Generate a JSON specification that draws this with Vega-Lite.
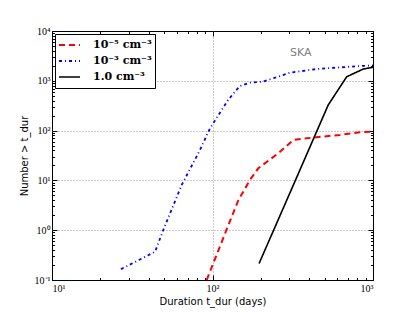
{
  "$schema": "https://vega.github.io/schema/vega-lite/v6.json",
  "width": 321,
  "height": 249,
  "autosize": {"type": "none"},
  "padding": {"left": 52, "top": 31, "right": 42, "bottom": 32},
  "background": "#ffffff",
  "config": {
    "view": {"stroke": "#000000", "strokeWidth": 1},
    "axis": {"domain": false, "tickColor": "#000000", "labelColor": "#000000", "titleColor": "#000000"}
  },
  "resolve": {"axis": {"x": "independent", "y": "independent"}},
  "layer": [
    {
      "data": {"values": [
        {"x": 92, "y": 0.1, "s": "10⁻⁵ cm⁻³"},
        {"x": 122, "y": 1.0, "s": "10⁻⁵ cm⁻³"},
        {"x": 145, "y": 4.0, "s": "10⁻⁵ cm⁻³"},
        {"x": 171, "y": 10.2, "s": "10⁻⁵ cm⁻³"},
        {"x": 193, "y": 17.5, "s": "10⁻⁵ cm⁻³"},
        {"x": 257, "y": 35, "s": "10⁻⁵ cm⁻³"},
        {"x": 319, "y": 65, "s": "10⁻⁵ cm⁻³"},
        {"x": 417, "y": 72, "s": "10⁻⁵ cm⁻³"},
        {"x": 622, "y": 82, "s": "10⁻⁵ cm⁻³"},
        {"x": 807, "y": 92, "s": "10⁻⁵ cm⁻³"},
        {"x": 1000, "y": 96, "s": "10⁻⁵ cm⁻³"},
        {"x": 26.9, "y": 0.165, "s": "10⁻³ cm⁻³"},
        {"x": 43.9, "y": 0.37, "s": "10⁻³ cm⁻³"},
        {"x": 49.3, "y": 1.0, "s": "10⁻³ cm⁻³"},
        {"x": 64.3, "y": 8.1, "s": "10⁻³ cm⁻³"},
        {"x": 83.6, "y": 41, "s": "10⁻³ cm⁻³"},
        {"x": 96.5, "y": 111, "s": "10⁻³ cm⁻³"},
        {"x": 125, "y": 411, "s": "10⁻³ cm⁻³"},
        {"x": 148, "y": 787, "s": "10⁻³ cm⁻³"},
        {"x": 171, "y": 916, "s": "10⁻³ cm⁻³"},
        {"x": 207, "y": 964, "s": "10⁻³ cm⁻³"},
        {"x": 304, "y": 1455, "s": "10⁻³ cm⁻³"},
        {"x": 448, "y": 1726, "s": "10⁻³ cm⁻³"},
        {"x": 719, "y": 1919, "s": "10⁻³ cm⁻³"},
        {"x": 1000, "y": 2047, "s": "10⁻³ cm⁻³"},
        {"x": 195, "y": 0.214, "s": "1.0 cm⁻³"},
        {"x": 327, "y": 9.7, "s": "1.0 cm⁻³"},
        {"x": 526, "y": 327, "s": "1.0 cm⁻³"},
        {"x": 686, "y": 1208, "s": "1.0 cm⁻³"},
        {"x": 871, "y": 1726, "s": "1.0 cm⁻³"},
        {"x": 1000, "y": 1866, "s": "1.0 cm⁻³"}
      ]},
      "mark": {"type": "line", "clip": true},
      "encoding": {
        "x": {
          "field": "x", "type": "quantitative",
          "scale": {"type": "log", "domain": [10, 1000], "nice": false},
          "axis": {
            "orient": "bottom",
            "values": [10, 20, 30, 40, 50, 60, 70, 80, 90, 100, 200, 300, 400, 500, 600, 700, 800, 900, 1000],
            "labelExpr": "datum.value == 10 ? '10¹' : datum.value == 100 ? '10²' : datum.value == 1000 ? '10³' : ''",
            "labelFont": "Liberation Serif", "labelFontSize": 10, "labelPadding": 8,
            "tickSize": {"condition": {"test": "indexof([10,100,1000], datum.value) >= 0", "value": -5}, "value": -2.5},
            "grid": true,
            "gridOpacity": {"condition": {"test": "datum.value == 100", "value": 1}, "value": 0},
            "gridDash": [1, 2], "gridColor": "#999999", "gridWidth": 1,
            "title": "Duration t_dur (days)",
            "titleFont": "DejaVu Sans", "titleFontSize": 10, "titleFontWeight": "normal", "titlePadding": 3
          }
        },
        "y": {
          "field": "y", "type": "quantitative",
          "scale": {"type": "log", "domain": [0.1, 10000], "nice": false},
          "axis": {
            "orient": "left",
            "values": [0.1, 0.2, 0.3, 0.4, 0.5, 0.6, 0.7, 0.8, 0.9, 1, 2, 3, 4, 5, 6, 7, 8, 9, 10, 20, 30, 40, 50, 60, 70, 80, 90, 100, 200, 300, 400, 500, 600, 700, 800, 900, 1000, 2000, 3000, 4000, 5000, 6000, 7000, 8000, 9000, 10000],
            "labelExpr": "datum.value == 0.1 ? '10⁻¹' : datum.value == 1 ? '10⁰' : datum.value == 10 ? '10¹' : datum.value == 100 ? '10²' : datum.value == 1000 ? '10³' : datum.value == 10000 ? '10⁴' : ''",
            "labelFont": "Liberation Serif", "labelFontSize": 10, "labelPadding": 7,
            "tickSize": {"condition": {"test": "indexof([0.1,1,10,100,1000,10000], datum.value) >= 0", "value": -5}, "value": -2.5},
            "grid": true,
            "gridOpacity": {"condition": {"test": "indexof([1,10,100,1000], datum.value) >= 0", "value": 1}, "value": 0},
            "gridDash": [1, 2], "gridColor": "#999999", "gridWidth": 1,
            "title": "Number > t_dur",
            "titleFont": "DejaVu Sans", "titleFontSize": 10, "titleFontWeight": "normal", "titlePadding": 5
          }
        },
        "color": {
          "field": "s", "type": "nominal",
          "scale": {"domain": ["10⁻⁵ cm⁻³", "10⁻³ cm⁻³", "1.0 cm⁻³"], "range": ["#ff0000", "#0000ff", "#000000"]},
          "legend": {
            "title": null, "orient": "none", "legendX": 3, "legendY": 3,
            "strokeColor": "#000000", "fillColor": "#ffffff", "padding": 3, "cornerRadius": 0,
            "symbolType": "stroke", "symbolSize": 441, "symbolStrokeWidth": 2,
            "labelFont": "DejaVu Serif", "labelFontSize": 11, "labelFontWeight": "bold", "labelColor": "#000000",
            "clipHeight": 16, "rowPadding": 0, "labelOffset": 12
          }
        },
        "strokeDash": {
          "field": "s", "type": "nominal",
          "scale": {"domain": ["10⁻⁵ cm⁻³", "10⁻³ cm⁻³", "1.0 cm⁻³"], "range": [[6, 4], [3, 3, 1, 3], [1, 0]]},
          "legend": {
            "title": null, "orient": "none", "legendX": 3, "legendY": 3,
            "strokeColor": "#000000", "fillColor": "#ffffff", "padding": 3, "cornerRadius": 0,
            "symbolType": "stroke", "symbolSize": 441, "symbolStrokeWidth": 2,
            "labelFont": "DejaVu Serif", "labelFontSize": 11, "labelFontWeight": "bold", "labelColor": "#000000",
            "clipHeight": 16, "rowPadding": 0, "labelOffset": 12
          }
        },
        "strokeWidth": {
          "field": "s", "type": "nominal",
          "scale": {"domain": ["10⁻⁵ cm⁻³", "10⁻³ cm⁻³", "1.0 cm⁻³"], "range": [2, 1.6, 1.6]},
          "legend": null
        }
      }
    },
    {
      "data": {"values": [{"x": 355, "y": 3660, "label": "SKA"}]},
      "mark": {"type": "text", "font": "DejaVu Sans", "fontSize": 11, "color": "#808080", "align": "center", "baseline": "middle"},
      "encoding": {
        "x": {
          "field": "x", "type": "quantitative",
          "scale": {"type": "log", "domain": [10, 1000], "nice": false},
          "axis": {
            "orient": "top", "labels": false, "grid": false, "title": null,
            "values": [10, 20, 30, 40, 50, 60, 70, 80, 90, 100, 200, 300, 400, 500, 600, 700, 800, 900, 1000],
            "tickSize": {"condition": {"test": "indexof([10,100,1000], datum.value) >= 0", "value": -5}, "value": -2.5}
          }
        },
        "y": {
          "field": "y", "type": "quantitative",
          "scale": {"type": "log", "domain": [0.1, 10000], "nice": false},
          "axis": {
            "orient": "right", "labels": false, "grid": false, "title": null,
            "values": [0.1, 0.2, 0.3, 0.4, 0.5, 0.6, 0.7, 0.8, 0.9, 1, 2, 3, 4, 5, 6, 7, 8, 9, 10, 20, 30, 40, 50, 60, 70, 80, 90, 100, 200, 300, 400, 500, 600, 700, 800, 900, 1000, 2000, 3000, 4000, 5000, 6000, 7000, 8000, 9000, 10000],
            "tickSize": {"condition": {"test": "indexof([0.1,1,10,100,1000,10000], datum.value) >= 0", "value": -5}, "value": -2.5}
          }
        },
        "text": {"field": "label", "type": "nominal"}
      }
    }
  ]
}
